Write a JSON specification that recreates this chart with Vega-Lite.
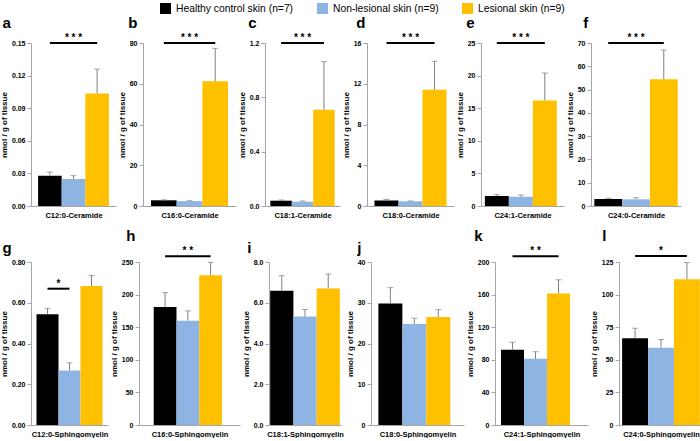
{
"$schema": "https://vega.github.io/schema/vega-lite/v6.json",
"padding": {"left": 0, "top": 3, "right": 0, "bottom": 0},
"config": {
  "font": "Liberation Sans",
  "view": {"stroke": null},
  "axis": {"grid": false, "domainColor": "#a6a6a6", "tickColor": "#a6a6a6", "labelFontWeight": "bold", "labelFontSize": 7, "labelColor": "#000000", "titleFontSize": 8, "titleFontWeight": "bold", "titleColor": "#000000", "tickSize": 4, "labelPadding": 2, "labelOverlap": false},
  "axisX": {"labels": false, "ticks": false, "titlePadding": 5, "titleFontSize": 7.5},
  "axisY": {"titlePadding": 3},
  "title": {"anchor": "start", "fontSize": 15, "fontWeight": "bold", "frame": "bounds", "offset": 2, "color": "#000000"},
  "legend": {"orient": "none", "legendX": 129, "legendY": -40, "direction": "horizontal", "title": null, "symbolType": "square", "symbolSize": 121, "symbolStrokeWidth": 0, "labelFontSize": 10.3, "labelColor": "#000000", "labelOffset": 5, "columnPadding": 23}
},
"datasets": {
  "bars": [
    {"panel": "a", "group": "Healthy control skin (n=7)", "mean": 0.0279, "upper": 0.0312},
    {"panel": "a", "group": "Non-lesional skin (n=9)", "mean": 0.0248, "upper": 0.0279},
    {"panel": "a", "group": "Lesional skin (n=9)", "mean": 0.1035, "upper": 0.126},
    {"panel": "b", "group": "Healthy control skin (n=7)", "mean": 2.8, "upper": 3.0},
    {"panel": "b", "group": "Non-lesional skin (n=9)", "mean": 2.4, "upper": 2.6},
    {"panel": "b", "group": "Lesional skin (n=9)", "mean": 61.2, "upper": 77.4},
    {"panel": "c", "group": "Healthy control skin (n=7)", "mean": 0.039, "upper": 0.044},
    {"panel": "c", "group": "Non-lesional skin (n=9)", "mean": 0.032, "upper": 0.037},
    {"panel": "c", "group": "Lesional skin (n=9)", "mean": 0.708, "upper": 1.063},
    {"panel": "d", "group": "Healthy control skin (n=7)", "mean": 0.55, "upper": 0.65},
    {"panel": "d", "group": "Non-lesional skin (n=9)", "mean": 0.46, "upper": 0.5},
    {"panel": "d", "group": "Lesional skin (n=9)", "mean": 11.4, "upper": 14.2},
    {"panel": "e", "group": "Healthy control skin (n=7)", "mean": 1.53, "upper": 1.73},
    {"panel": "e", "group": "Non-lesional skin (n=9)", "mean": 1.43, "upper": 1.68},
    {"panel": "e", "group": "Lesional skin (n=9)", "mean": 16.2, "upper": 20.4},
    {"panel": "f", "group": "Healthy control skin (n=7)", "mean": 3.0, "upper": 3.3},
    {"panel": "f", "group": "Non-lesional skin (n=9)", "mean": 2.86, "upper": 3.57},
    {"panel": "f", "group": "Lesional skin (n=9)", "mean": 54.4, "upper": 67.0},
    {"panel": "g", "group": "Healthy control skin (n=7)", "mean": 0.544, "upper": 0.572},
    {"panel": "g", "group": "Non-lesional skin (n=9)", "mean": 0.268, "upper": 0.305},
    {"panel": "g", "group": "Lesional skin (n=9)", "mean": 0.682, "upper": 0.734},
    {"panel": "h", "group": "Healthy control skin (n=7)", "mean": 181, "upper": 203},
    {"panel": "h", "group": "Non-lesional skin (n=9)", "mean": 160, "upper": 175},
    {"panel": "h", "group": "Lesional skin (n=9)", "mean": 229.5, "upper": 249.5},
    {"panel": "i", "group": "Healthy control skin (n=7)", "mean": 6.59, "upper": 7.33},
    {"panel": "i", "group": "Non-lesional skin (n=9)", "mean": 5.32, "upper": 5.67},
    {"panel": "i", "group": "Lesional skin (n=9)", "mean": 6.7, "upper": 7.41},
    {"panel": "j", "group": "Healthy control skin (n=7)", "mean": 29.8, "upper": 33.7},
    {"panel": "j", "group": "Non-lesional skin (n=9)", "mean": 24.8, "upper": 26.2},
    {"panel": "j", "group": "Lesional skin (n=9)", "mean": 26.5, "upper": 28.3},
    {"panel": "k", "group": "Healthy control skin (n=7)", "mean": 92.4, "upper": 101.4},
    {"panel": "k", "group": "Non-lesional skin (n=9)", "mean": 81.3, "upper": 89.9},
    {"panel": "k", "group": "Lesional skin (n=9)", "mean": 161.4, "upper": 178.2},
    {"panel": "l", "group": "Healthy control skin (n=7)", "mean": 66.5, "upper": 74.2},
    {"panel": "l", "group": "Non-lesional skin (n=9)", "mean": 59.3, "upper": 65.5},
    {"panel": "l", "group": "Lesional skin (n=9)", "mean": 111.7, "upper": 124.5}
  ],
  "sig": [
    {"panel": "a", "from": "Healthy control skin (n=7)", "to": "Lesional skin (n=9)", "mid": "Non-lesional skin (n=9)", "level": 0.15, "stars": "* * *"},
    {"panel": "b", "from": "Healthy control skin (n=7)", "to": "Lesional skin (n=9)", "mid": "Non-lesional skin (n=9)", "level": 80, "stars": "* * *"},
    {"panel": "c", "from": "Healthy control skin (n=7)", "to": "Lesional skin (n=9)", "mid": "Non-lesional skin (n=9)", "level": 1.2, "stars": "* * *"},
    {"panel": "d", "from": "Healthy control skin (n=7)", "to": "Lesional skin (n=9)", "mid": "Non-lesional skin (n=9)", "level": 16, "stars": "* * *"},
    {"panel": "e", "from": "Healthy control skin (n=7)", "to": "Lesional skin (n=9)", "mid": "Non-lesional skin (n=9)", "level": 25, "stars": "* * *"},
    {"panel": "f", "from": "Healthy control skin (n=7)", "to": "Lesional skin (n=9)", "mid": "Non-lesional skin (n=9)", "level": 70, "stars": "* * *"},
    {"panel": "g", "from": "Healthy control skin (n=7)", "to": "Non-lesional skin (n=9)", "mid": "Healthy control skin (n=7)", "level": 0.669, "stars": "*"},
    {"panel": "h", "from": "Healthy control skin (n=7)", "to": "Lesional skin (n=9)", "mid": "Non-lesional skin (n=9)", "level": 259, "stars": "* *"},
    {"panel": "k", "from": "Healthy control skin (n=7)", "to": "Lesional skin (n=9)", "mid": "Non-lesional skin (n=9)", "level": 207, "stars": "* *"},
    {"panel": "l", "from": "Healthy control skin (n=7)", "to": "Lesional skin (n=9)", "mid": "Non-lesional skin (n=9)", "level": 129.6, "stars": "*"}
  ]
},
"spacing": 10,
"vconcat": [
{"spacing": 2, "align": "none", "hconcat": [
{"width": 85, "height": 163, "title": {"text": "a", "dx": 2},
 "encoding": {"x": {"field": "group", "type": "nominal", "scale": {"domain": ["Healthy control skin (n=7)", "Non-lesional skin (n=9)", "Lesional skin (n=9)"], "paddingInner": 0, "paddingOuter": 0.3}, "axis": {"title": "C12:0-Ceramide"}}},
 "layer": [
  {"data": {"name": "bars"}, "transform": [{"filter": "datum.panel === 'a'"}], "mark": {"type": "bar"}, "encoding": {"y": {"field": "mean", "type": "quantitative", "scale": {"domain": [0, 0.15], "nice": false}, "axis": {"values": [0, 0.03, 0.06, 0.09, 0.12, 0.15], "tickCount": 20, "format": ".2f", "title": "nmol / g of tissue"}}, "color": {"field": "group", "type": "nominal", "scale": {"domain": ["Healthy control skin (n=7)", "Non-lesional skin (n=9)", "Lesional skin (n=9)"], "range": ["#000000", "#8db4e2", "#ffc000"]}}}},
  {"data": {"name": "bars"}, "transform": [{"filter": "datum.panel === 'a'"}], "mark": {"type": "rule", "color": "#808080"}, "encoding": {"y": {"field": "mean", "type": "quantitative"}, "y2": {"field": "upper"}}},
  {"data": {"name": "bars"}, "transform": [{"filter": "datum.panel === 'a'"}], "mark": {"type": "tick", "color": "#808080", "size": 6, "thickness": 1}, "encoding": {"y": {"field": "upper", "type": "quantitative"}}},
  {"data": {"name": "sig"}, "transform": [{"filter": "datum.panel === 'a'"}], "mark": {"type": "rule", "strokeWidth": 2, "color": "#000000"}, "encoding": {"x": {"field": "from", "type": "nominal"}, "x2": {"field": "to"}, "y": {"field": "level", "type": "quantitative"}}},
  {"data": {"name": "sig"}, "transform": [{"filter": "datum.panel === 'a'"}], "mark": {"type": "text", "baseline": "bottom", "dy": 0, "fontSize": 10, "fontWeight": "bold"}, "encoding": {"x": {"field": "mid", "type": "nominal"}, "y": {"field": "level", "type": "quantitative"}, "text": {"field": "stars"}}}
 ]},
{"width": 93, "height": 163, "title": {"text": "b", "dx": 10},
 "encoding": {"x": {"field": "group", "type": "nominal", "scale": {"domain": ["Healthy control skin (n=7)", "Non-lesional skin (n=9)", "Lesional skin (n=9)"], "paddingInner": 0, "paddingOuter": 0.31}, "axis": {"title": "C16:0-Ceramide"}}},
 "layer": [
  {"data": {"name": "bars"}, "transform": [{"filter": "datum.panel === 'b'"}], "mark": {"type": "bar"}, "encoding": {"y": {"field": "mean", "type": "quantitative", "scale": {"domain": [0, 80], "nice": false}, "axis": {"values": [0, 20, 40, 60, 80], "tickCount": 20, "format": "d", "title": "nmol / g of tissue"}}, "color": {"field": "group", "type": "nominal", "scale": {"domain": ["Healthy control skin (n=7)", "Non-lesional skin (n=9)", "Lesional skin (n=9)"], "range": ["#000000", "#8db4e2", "#ffc000"]}}}},
  {"data": {"name": "bars"}, "transform": [{"filter": "datum.panel === 'b'"}], "mark": {"type": "rule", "color": "#808080"}, "encoding": {"y": {"field": "mean", "type": "quantitative"}, "y2": {"field": "upper"}}},
  {"data": {"name": "bars"}, "transform": [{"filter": "datum.panel === 'b'"}], "mark": {"type": "tick", "color": "#808080", "size": 6, "thickness": 1}, "encoding": {"y": {"field": "upper", "type": "quantitative"}}},
  {"data": {"name": "sig"}, "transform": [{"filter": "datum.panel === 'b'"}], "mark": {"type": "rule", "strokeWidth": 2, "color": "#000000"}, "encoding": {"x": {"field": "from", "type": "nominal"}, "x2": {"field": "to"}, "y": {"field": "level", "type": "quantitative"}}},
  {"data": {"name": "sig"}, "transform": [{"filter": "datum.panel === 'b'"}], "mark": {"type": "text", "baseline": "bottom", "dy": 0, "fontSize": 10, "fontWeight": "bold"}, "encoding": {"x": {"field": "mid", "type": "nominal"}, "y": {"field": "level", "type": "quantitative"}, "text": {"field": "stars"}}}
 ]},
{"width": 75, "height": 163, "title": {"text": "c", "dx": 10},
 "encoding": {"x": {"field": "group", "type": "nominal", "scale": {"domain": ["Healthy control skin (n=7)", "Non-lesional skin (n=9)", "Lesional skin (n=9)"], "paddingInner": 0, "paddingOuter": 0.25}, "axis": {"title": "C18:1-Ceramide"}}},
 "layer": [
  {"data": {"name": "bars"}, "transform": [{"filter": "datum.panel === 'c'"}], "mark": {"type": "bar"}, "encoding": {"y": {"field": "mean", "type": "quantitative", "scale": {"domain": [0, 1.2], "nice": false}, "axis": {"values": [0, 0.4, 0.8, 1.2], "tickCount": 20, "format": ".1f", "title": "nmol / g of tissue"}}, "color": {"field": "group", "type": "nominal", "scale": {"domain": ["Healthy control skin (n=7)", "Non-lesional skin (n=9)", "Lesional skin (n=9)"], "range": ["#000000", "#8db4e2", "#ffc000"]}}}},
  {"data": {"name": "bars"}, "transform": [{"filter": "datum.panel === 'c'"}], "mark": {"type": "rule", "color": "#808080"}, "encoding": {"y": {"field": "mean", "type": "quantitative"}, "y2": {"field": "upper"}}},
  {"data": {"name": "bars"}, "transform": [{"filter": "datum.panel === 'c'"}], "mark": {"type": "tick", "color": "#808080", "size": 6, "thickness": 1}, "encoding": {"y": {"field": "upper", "type": "quantitative"}}},
  {"data": {"name": "sig"}, "transform": [{"filter": "datum.panel === 'c'"}], "mark": {"type": "rule", "strokeWidth": 2, "color": "#000000"}, "encoding": {"x": {"field": "from", "type": "nominal"}, "x2": {"field": "to"}, "y": {"field": "level", "type": "quantitative"}}},
  {"data": {"name": "sig"}, "transform": [{"filter": "datum.panel === 'c'"}], "mark": {"type": "text", "baseline": "bottom", "dy": 0, "fontSize": 10, "fontWeight": "bold"}, "encoding": {"x": {"field": "mid", "type": "nominal"}, "y": {"field": "level", "type": "quantitative"}, "text": {"field": "stars"}}}
 ]},
{"width": 87, "height": 163, "title": {"text": "d", "dx": 14},
 "encoding": {"x": {"field": "group", "type": "nominal", "scale": {"domain": ["Healthy control skin (n=7)", "Non-lesional skin (n=9)", "Lesional skin (n=9)"], "paddingInner": 0, "paddingOuter": 0.31}, "axis": {"title": "C18:0-Ceramide"}}},
 "layer": [
  {"data": {"name": "bars"}, "transform": [{"filter": "datum.panel === 'd'"}], "mark": {"type": "bar"}, "encoding": {"y": {"field": "mean", "type": "quantitative", "scale": {"domain": [0, 16], "nice": false}, "axis": {"values": [0, 4, 8, 12, 16], "tickCount": 20, "format": "d", "title": "nmol / g of tissue"}}, "color": {"field": "group", "type": "nominal", "scale": {"domain": ["Healthy control skin (n=7)", "Non-lesional skin (n=9)", "Lesional skin (n=9)"], "range": ["#000000", "#8db4e2", "#ffc000"]}}}},
  {"data": {"name": "bars"}, "transform": [{"filter": "datum.panel === 'd'"}], "mark": {"type": "rule", "color": "#808080"}, "encoding": {"y": {"field": "mean", "type": "quantitative"}, "y2": {"field": "upper"}}},
  {"data": {"name": "bars"}, "transform": [{"filter": "datum.panel === 'd'"}], "mark": {"type": "tick", "color": "#808080", "size": 6, "thickness": 1}, "encoding": {"y": {"field": "upper", "type": "quantitative"}}},
  {"data": {"name": "sig"}, "transform": [{"filter": "datum.panel === 'd'"}], "mark": {"type": "rule", "strokeWidth": 2, "color": "#000000"}, "encoding": {"x": {"field": "from", "type": "nominal"}, "x2": {"field": "to"}, "y": {"field": "level", "type": "quantitative"}}},
  {"data": {"name": "sig"}, "transform": [{"filter": "datum.panel === 'd'"}], "mark": {"type": "text", "baseline": "bottom", "dy": 0, "fontSize": 10, "fontWeight": "bold"}, "encoding": {"x": {"field": "mid", "type": "nominal"}, "y": {"field": "level", "type": "quantitative"}, "text": {"field": "stars"}}}
 ]},
{"width": 83, "height": 163, "title": {"text": "e", "dx": 10},
 "encoding": {"x": {"field": "group", "type": "nominal", "scale": {"domain": ["Healthy control skin (n=7)", "Non-lesional skin (n=9)", "Lesional skin (n=9)"], "paddingInner": 0, "paddingOuter": 0.23, "align": 0.35}, "axis": {"title": "C24:1-Ceramide"}}},
 "layer": [
  {"data": {"name": "bars"}, "transform": [{"filter": "datum.panel === 'e'"}], "mark": {"type": "bar"}, "encoding": {"y": {"field": "mean", "type": "quantitative", "scale": {"domain": [0, 25], "nice": false}, "axis": {"values": [0, 5, 10, 15, 20, 25], "tickCount": 20, "format": "d", "title": "nmol / g of tissue"}}, "color": {"field": "group", "type": "nominal", "scale": {"domain": ["Healthy control skin (n=7)", "Non-lesional skin (n=9)", "Lesional skin (n=9)"], "range": ["#000000", "#8db4e2", "#ffc000"]}}}},
  {"data": {"name": "bars"}, "transform": [{"filter": "datum.panel === 'e'"}], "mark": {"type": "rule", "color": "#808080"}, "encoding": {"y": {"field": "mean", "type": "quantitative"}, "y2": {"field": "upper"}}},
  {"data": {"name": "bars"}, "transform": [{"filter": "datum.panel === 'e'"}], "mark": {"type": "tick", "color": "#808080", "size": 6, "thickness": 1}, "encoding": {"y": {"field": "upper", "type": "quantitative"}}},
  {"data": {"name": "sig"}, "transform": [{"filter": "datum.panel === 'e'"}], "mark": {"type": "rule", "strokeWidth": 2, "color": "#000000"}, "encoding": {"x": {"field": "from", "type": "nominal"}, "x2": {"field": "to"}, "y": {"field": "level", "type": "quantitative"}}},
  {"data": {"name": "sig"}, "transform": [{"filter": "datum.panel === 'e'"}], "mark": {"type": "text", "baseline": "bottom", "dy": 0, "fontSize": 10, "fontWeight": "bold"}, "encoding": {"x": {"field": "mid", "type": "nominal"}, "y": {"field": "level", "type": "quantitative"}, "text": {"field": "stars"}}}
 ]},
{"width": 90, "height": 163, "title": {"text": "f", "dx": 17},
 "encoding": {"x": {"field": "group", "type": "nominal", "scale": {"domain": ["Healthy control skin (n=7)", "Non-lesional skin (n=9)", "Lesional skin (n=9)"], "paddingInner": 0, "paddingOuter": 0.12}, "axis": {"title": "C24:0-Ceramide"}}},
 "layer": [
  {"data": {"name": "bars"}, "transform": [{"filter": "datum.panel === 'f'"}], "mark": {"type": "bar"}, "encoding": {"y": {"field": "mean", "type": "quantitative", "scale": {"domain": [0, 70], "nice": false}, "axis": {"values": [0, 10, 20, 30, 40, 50, 60, 70], "tickCount": 20, "format": "d", "title": "nmol / g of tissue"}}, "color": {"field": "group", "type": "nominal", "scale": {"domain": ["Healthy control skin (n=7)", "Non-lesional skin (n=9)", "Lesional skin (n=9)"], "range": ["#000000", "#8db4e2", "#ffc000"]}}}},
  {"data": {"name": "bars"}, "transform": [{"filter": "datum.panel === 'f'"}], "mark": {"type": "rule", "color": "#808080"}, "encoding": {"y": {"field": "mean", "type": "quantitative"}, "y2": {"field": "upper"}}},
  {"data": {"name": "bars"}, "transform": [{"filter": "datum.panel === 'f'"}], "mark": {"type": "tick", "color": "#808080", "size": 6, "thickness": 1}, "encoding": {"y": {"field": "upper", "type": "quantitative"}}},
  {"data": {"name": "sig"}, "transform": [{"filter": "datum.panel === 'f'"}], "mark": {"type": "rule", "strokeWidth": 2, "color": "#000000"}, "encoding": {"x": {"field": "from", "type": "nominal"}, "x2": {"field": "to"}, "y": {"field": "level", "type": "quantitative"}}},
  {"data": {"name": "sig"}, "transform": [{"filter": "datum.panel === 'f'"}], "mark": {"type": "text", "baseline": "bottom", "dy": 0, "fontSize": 10, "fontWeight": "bold"}, "encoding": {"x": {"field": "mid", "type": "nominal"}, "y": {"field": "level", "type": "quantitative"}, "text": {"field": "stars"}}}
 ]}
]},
{"spacing": 2, "align": "none", "hconcat": [
{"width": 77, "height": 163, "title": {"text": "g", "dx": 2},
 "encoding": {"x": {"field": "group", "type": "nominal", "scale": {"domain": ["Healthy control skin (n=7)", "Non-lesional skin (n=9)", "Lesional skin (n=9)"], "paddingInner": 0, "paddingOuter": 0.25}, "axis": {"title": "C12:0-Sphingomyelin"}}},
 "layer": [
  {"data": {"name": "bars"}, "transform": [{"filter": "datum.panel === 'g'"}], "mark": {"type": "bar"}, "encoding": {"y": {"field": "mean", "type": "quantitative", "scale": {"domain": [0, 0.8], "nice": false}, "axis": {"values": [0, 0.2, 0.4, 0.6, 0.8], "tickCount": 20, "format": ".2f", "title": "nmol / g of tissue"}}, "color": {"field": "group", "type": "nominal", "scale": {"domain": ["Healthy control skin (n=7)", "Non-lesional skin (n=9)", "Lesional skin (n=9)"], "range": ["#000000", "#8db4e2", "#ffc000"]}}}},
  {"data": {"name": "bars"}, "transform": [{"filter": "datum.panel === 'g'"}], "mark": {"type": "rule", "color": "#808080"}, "encoding": {"y": {"field": "mean", "type": "quantitative"}, "y2": {"field": "upper"}}},
  {"data": {"name": "bars"}, "transform": [{"filter": "datum.panel === 'g'"}], "mark": {"type": "tick", "color": "#808080", "size": 6, "thickness": 1}, "encoding": {"y": {"field": "upper", "type": "quantitative"}}},
  {"data": {"name": "sig"}, "transform": [{"filter": "datum.panel === 'g'"}], "mark": {"type": "rule", "strokeWidth": 2, "color": "#000000"}, "encoding": {"x": {"field": "from", "type": "nominal"}, "x2": {"field": "to"}, "y": {"field": "level", "type": "quantitative"}}},
  {"data": {"name": "sig"}, "transform": [{"filter": "datum.panel === 'g'"}], "mark": {"type": "text", "baseline": "bottom", "dy": 0, "fontSize": 10, "fontWeight": "bold"}, "encoding": {"x": {"field": "mid", "type": "nominal", "bandPosition": 1}, "y": {"field": "level", "type": "quantitative"}, "text": {"field": "stars"}}}
 ]},
{"width": 101, "height": 163, "title": {"text": "h", "dx": 16},
 "encoding": {"x": {"field": "group", "type": "nominal", "scale": {"domain": ["Healthy control skin (n=7)", "Non-lesional skin (n=9)", "Lesional skin (n=9)"], "paddingInner": 0, "paddingOuter": 0.72, "align": 0.45}, "axis": {"title": "C16:0-Sphingomyelin"}}},
 "layer": [
  {"data": {"name": "bars"}, "transform": [{"filter": "datum.panel === 'h'"}], "mark": {"type": "bar"}, "encoding": {"y": {"field": "mean", "type": "quantitative", "scale": {"domain": [0, 250], "nice": false}, "axis": {"values": [0, 50, 100, 150, 200, 250], "tickCount": 20, "format": "d", "title": "nmol / g of tissue"}}, "color": {"field": "group", "type": "nominal", "scale": {"domain": ["Healthy control skin (n=7)", "Non-lesional skin (n=9)", "Lesional skin (n=9)"], "range": ["#000000", "#8db4e2", "#ffc000"]}}}},
  {"data": {"name": "bars"}, "transform": [{"filter": "datum.panel === 'h'"}], "mark": {"type": "rule", "color": "#808080"}, "encoding": {"y": {"field": "mean", "type": "quantitative"}, "y2": {"field": "upper"}}},
  {"data": {"name": "bars"}, "transform": [{"filter": "datum.panel === 'h'"}], "mark": {"type": "tick", "color": "#808080", "size": 6, "thickness": 1}, "encoding": {"y": {"field": "upper", "type": "quantitative"}}},
  {"data": {"name": "sig"}, "transform": [{"filter": "datum.panel === 'h'"}], "mark": {"type": "rule", "strokeWidth": 2, "color": "#000000"}, "encoding": {"x": {"field": "from", "type": "nominal"}, "x2": {"field": "to"}, "y": {"field": "level", "type": "quantitative"}}},
  {"data": {"name": "sig"}, "transform": [{"filter": "datum.panel === 'h'"}], "mark": {"type": "text", "baseline": "bottom", "dy": 0, "fontSize": 10, "fontWeight": "bold"}, "encoding": {"x": {"field": "mid", "type": "nominal"}, "y": {"field": "level", "type": "quantitative"}, "text": {"field": "stars"}}}
 ]},
{"width": 72, "height": 163, "title": {"text": "i", "dx": 5},
 "encoding": {"x": {"field": "group", "type": "nominal", "scale": {"domain": ["Healthy control skin (n=7)", "Non-lesional skin (n=9)", "Lesional skin (n=9)"], "paddingInner": 0, "paddingOuter": 0.05}, "axis": {"title": "C18:1-Sphingomyelin"}}},
 "layer": [
  {"data": {"name": "bars"}, "transform": [{"filter": "datum.panel === 'i'"}], "mark": {"type": "bar"}, "encoding": {"y": {"field": "mean", "type": "quantitative", "scale": {"domain": [0, 8], "nice": false}, "axis": {"values": [0, 2, 4, 6, 8], "tickCount": 20, "format": ".1f", "title": "nmol / g of tissue"}}, "color": {"field": "group", "type": "nominal", "scale": {"domain": ["Healthy control skin (n=7)", "Non-lesional skin (n=9)", "Lesional skin (n=9)"], "range": ["#000000", "#8db4e2", "#ffc000"]}}}},
  {"data": {"name": "bars"}, "transform": [{"filter": "datum.panel === 'i'"}], "mark": {"type": "rule", "color": "#808080"}, "encoding": {"y": {"field": "mean", "type": "quantitative"}, "y2": {"field": "upper"}}},
  {"data": {"name": "bars"}, "transform": [{"filter": "datum.panel === 'i'"}], "mark": {"type": "tick", "color": "#808080", "size": 6, "thickness": 1}, "encoding": {"y": {"field": "upper", "type": "quantitative"}}}
 ]},
{"width": 93, "height": 163, "title": {"text": "j", "dx": 11},
 "encoding": {"x": {"field": "group", "type": "nominal", "scale": {"domain": ["Healthy control skin (n=7)", "Non-lesional skin (n=9)", "Lesional skin (n=9)"], "paddingInner": 0, "paddingOuter": 0.44, "align": 0.35}, "axis": {"title": "C18:0-Sphingomyelin"}}},
 "layer": [
  {"data": {"name": "bars"}, "transform": [{"filter": "datum.panel === 'j'"}], "mark": {"type": "bar"}, "encoding": {"y": {"field": "mean", "type": "quantitative", "scale": {"domain": [0, 40], "nice": false}, "axis": {"values": [0, 10, 20, 30, 40], "tickCount": 20, "format": "d", "title": "nmol / g of tissue"}}, "color": {"field": "group", "type": "nominal", "scale": {"domain": ["Healthy control skin (n=7)", "Non-lesional skin (n=9)", "Lesional skin (n=9)"], "range": ["#000000", "#8db4e2", "#ffc000"]}}}},
  {"data": {"name": "bars"}, "transform": [{"filter": "datum.panel === 'j'"}], "mark": {"type": "rule", "color": "#808080"}, "encoding": {"y": {"field": "mean", "type": "quantitative"}, "y2": {"field": "upper"}}},
  {"data": {"name": "bars"}, "transform": [{"filter": "datum.panel === 'j'"}], "mark": {"type": "tick", "color": "#808080", "size": 6, "thickness": 1}, "encoding": {"y": {"field": "upper", "type": "quantitative"}}}
 ]},
{"width": 93, "height": 163, "title": {"text": "k", "dx": 8},
 "encoding": {"x": {"field": "group", "type": "nominal", "scale": {"domain": ["Healthy control skin (n=7)", "Non-lesional skin (n=9)", "Lesional skin (n=9)"], "paddingInner": 0, "paddingOuter": 0.52, "align": 0.25}, "axis": {"title": "C24:1-Sphingomyelin"}}},
 "layer": [
  {"data": {"name": "bars"}, "transform": [{"filter": "datum.panel === 'k'"}], "mark": {"type": "bar"}, "encoding": {"y": {"field": "mean", "type": "quantitative", "scale": {"domain": [0, 200], "nice": false}, "axis": {"values": [0, 40, 80, 120, 160, 200], "tickCount": 20, "format": "d", "title": "nmol / g of tissue"}}, "color": {"field": "group", "type": "nominal", "scale": {"domain": ["Healthy control skin (n=7)", "Non-lesional skin (n=9)", "Lesional skin (n=9)"], "range": ["#000000", "#8db4e2", "#ffc000"]}}}},
  {"data": {"name": "bars"}, "transform": [{"filter": "datum.panel === 'k'"}], "mark": {"type": "rule", "color": "#808080"}, "encoding": {"y": {"field": "mean", "type": "quantitative"}, "y2": {"field": "upper"}}},
  {"data": {"name": "bars"}, "transform": [{"filter": "datum.panel === 'k'"}], "mark": {"type": "tick", "color": "#808080", "size": 6, "thickness": 1}, "encoding": {"y": {"field": "upper", "type": "quantitative"}}},
  {"data": {"name": "sig"}, "transform": [{"filter": "datum.panel === 'k'"}], "mark": {"type": "rule", "strokeWidth": 2, "color": "#000000"}, "encoding": {"x": {"field": "from", "type": "nominal"}, "x2": {"field": "to"}, "y": {"field": "level", "type": "quantitative"}}},
  {"data": {"name": "sig"}, "transform": [{"filter": "datum.panel === 'k'"}], "mark": {"type": "text", "baseline": "bottom", "dy": 0, "fontSize": 10, "fontWeight": "bold"}, "encoding": {"x": {"field": "mid", "type": "nominal"}, "y": {"field": "level", "type": "quantitative"}, "text": {"field": "stars"}}}
 ]},
{"width": 84, "height": 163, "title": {"text": "l", "dx": 12},
 "encoding": {"x": {"field": "group", "type": "nominal", "scale": {"domain": ["Healthy control skin (n=7)", "Non-lesional skin (n=9)", "Lesional skin (n=9)"], "paddingInner": 0, "paddingOuter": 0.12}, "axis": {"title": "C24:0-Sphingomyelin"}}},
 "layer": [
  {"data": {"name": "bars"}, "transform": [{"filter": "datum.panel === 'l'"}], "mark": {"type": "bar"}, "encoding": {"y": {"field": "mean", "type": "quantitative", "scale": {"domain": [0, 125], "nice": false}, "axis": {"values": [0, 25, 50, 75, 100, 125], "tickCount": 20, "format": "d", "title": "nmol / g of tissue"}}, "color": {"field": "group", "type": "nominal", "scale": {"domain": ["Healthy control skin (n=7)", "Non-lesional skin (n=9)", "Lesional skin (n=9)"], "range": ["#000000", "#8db4e2", "#ffc000"]}}}},
  {"data": {"name": "bars"}, "transform": [{"filter": "datum.panel === 'l'"}], "mark": {"type": "rule", "color": "#808080"}, "encoding": {"y": {"field": "mean", "type": "quantitative"}, "y2": {"field": "upper"}}},
  {"data": {"name": "bars"}, "transform": [{"filter": "datum.panel === 'l'"}], "mark": {"type": "tick", "color": "#808080", "size": 6, "thickness": 1}, "encoding": {"y": {"field": "upper", "type": "quantitative"}}},
  {"data": {"name": "sig"}, "transform": [{"filter": "datum.panel === 'l'"}], "mark": {"type": "rule", "strokeWidth": 2, "color": "#000000"}, "encoding": {"x": {"field": "from", "type": "nominal"}, "x2": {"field": "to"}, "y": {"field": "level", "type": "quantitative"}}},
  {"data": {"name": "sig"}, "transform": [{"filter": "datum.panel === 'l'"}], "mark": {"type": "text", "baseline": "bottom", "dy": 0, "fontSize": 10, "fontWeight": "bold"}, "encoding": {"x": {"field": "mid", "type": "nominal"}, "y": {"field": "level", "type": "quantitative"}, "text": {"field": "stars"}}}
 ]}
]}
]
}
